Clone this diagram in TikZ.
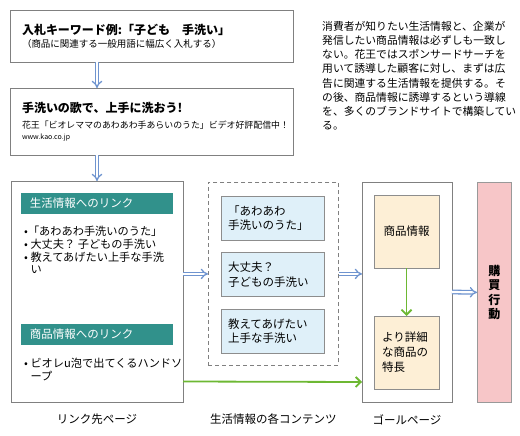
\documentclass[tikz,border=0pt]{standalone}
\usepackage{fontspec}
\setmainfont{Noto Sans CJK JP}
\usetikzlibrary{positioning,arrows.meta}
\definecolor{boxgray}{HTML}{808080}
\definecolor{kaoteal}{HTML}{31918B}
\definecolor{contentblue}{HTML}{DFF0F9}
\definecolor{goalorange}{HTML}{FDEFD6}
\definecolor{buypink}{HTML}{F7C6C8}
\definecolor{arrowblue}{HTML}{6F94CF}
\definecolor{arrowgreen}{HTML}{6DB833}
\tikzset{
    flow box/.style={
        rectangle,
        draw=boxgray,
        fill=white,
        line width=0.8pt,
        inner ysep=0pt,
        inner xsep=12pt,
        outer sep=0pt,
        align=left
    },
    link header/.style={
        rectangle,
        fill=kaoteal,
        text=white,
        minimum height=21pt,
        text width=134pt,
        inner xsep=9pt,
        inner ysep=0pt,
        outer sep=0pt,
        align=left,
        font=\fontsize{11.5}{14}\selectfont
    },
    link list/.style={inner sep=0pt, align=left, font=\fontsize{11.2}{12.7}\selectfont},
    content item/.style={
        rectangle,
        draw=boxgray!90,
        fill=contentblue,
        line width=0.8pt,
        minimum width=103pt,
        minimum height=44pt,
        text width=89pt,
        inner xsep=7pt,
        outer sep=0pt,
        align=left,
        font=\fontsize{11.5}{14.5}\selectfont
    },
    goal item/.style={
        rectangle,
        draw=boxgray!90,
        fill=goalorange,
        line width=0.8pt,
        minimum width=65pt,
        minimum height=73pt,
        text width=49pt,
        inner xsep=8pt,
        outer sep=0pt,
        font=\fontsize{11.5}{15}\selectfont
    },
    page label/.style={font=\fontsize{11.5}{14}\selectfont, inner sep=0pt},
    flow arrow/.style={
        draw=arrowblue,
        double=white,
        double distance=2.2pt,
        line width=1.3pt,
        -{Implies[scale=1.15]}
    },
    green arrow/.style={
        draw=arrowgreen,
        line width=1.8pt,
        -{Straight Barb[length=5pt,width=10pt]}
    }
}

\begin{document}
\begin{tikzpicture}[x=1pt, y=-1pt]
\useasboundingbox (0,0) rectangle (520,436);

% search ad and its landing text
\node[flow box, text width=259pt, minimum height=52pt, anchor=north west] (keyword) at (10,10)
    {{\bfseries\fontsize{12}{14}\selectfont 入札キーワード例:「子ども　手洗い」}\\[1pt]
     {\fontsize{9.5}{12}\selectfont （商品に関連する一般用語に幅広く入札する）}};
\node[flow box, text width=259pt, minimum height=67pt, anchor=north west] (adtext) at (10,88)
    {{\bfseries\fontsize{12}{14}\selectfont 手洗いの歌で、上手に洗おう!}\\[4pt]
     {\fontsize{8.9}{11}\selectfont 花王「ビオレママのあわあわ手あらいのうた」ビデオ好評配信中！}\\[-1pt]
     {\fontsize{7}{9}\selectfont www.kao.co.jp}};

% explanation
\node[anchor=north west, inner sep=0pt, align=left, font=\fontsize{10.8}{14.2}\selectfont] (note) at (322,21)
    {消費者が知りたい生活情報と、企業が\\
     発信したい商品情報は必ずしも一致し\\
     ない。花王ではスポンサードサーチを\\
     用いて誘導した顧客に対し、まずは広\\
     告に関連する生活情報を提供する。そ\\
     の後、商品情報に誘導するという導線\\
     を、多くのブランドサイトで構築してい\\
     る。};

% link page
\node[flow box, minimum width=172pt, minimum height=221pt, anchor=north west] (linkpage) at (11,181) {};
\node[link header, anchor=north west] (lifehdr) at (21,193) {生活情報へのリンク};
\node[link list, anchor=north west] (lifelist) at (24,226)
    {•「あわあわ手洗いのうた」\\
     •\ 大丈夫？ 子どもの手洗い\\
     •\ 教えてあげたい上手な手洗\\
     \phantom{•\ }い};
\node[link header, anchor=north west] (itemhdr) at (21,324) {商品情報へのリンク};
\node[link list, anchor=north west] (itemlist) at (24,358)
    {•\ ビオレu泡で出てくるハンドソ\\
     \phantom{•\ }ープ};

% life contents
\node[rectangle, draw=boxgray, dash pattern=on 4pt off 3pt, line width=0.8pt,
      minimum width=130pt, minimum height=183pt, anchor=north west] (contents) at (208,182) {};
\node[content item, anchor=north west] (song) at (221,196) {「あわあわ\\手洗いのうた」};
\node[content item, below=12.5pt of song] (okay) {大丈夫？\\子どもの手洗い};
\node[content item, below=12.5pt of okay] (teach) {教えてあげたい\\上手な手洗い};

% goal page
\node[flow box, minimum width=90pt, minimum height=220pt, anchor=north west] (goal) at (362,182) {};
\node[goal item, align=center, anchor=north west] (info) at (374,195) {商品情報};
\node[goal item, align=left, anchor=north west] (detail) at (374,316) {より詳細\\な商品の\\特長};

% purchase
\node[rectangle, draw=boxgray!80, fill=buypink, line width=0.8pt, minimum width=34pt,
      minimum height=220pt, anchor=north west, align=center,
      font=\bfseries\fontsize{12}{14.5}\selectfont] (buy) at (477,182) {購\\買\\行\\動};

% labels
\node[page label, below=12pt of linkpage] (linklbl) {リンク先ページ};
\node[page label] (contentslbl) at (contents.south |- linklbl) {生活情報の各コンテンツ};
\node[page label] (goallbl) at (goal.south |- linklbl) {ゴールページ};

% arrows
\draw[flow arrow] (keyword.south -| linkpage.north) -- (linkpage.north |- adtext.north);
\draw[flow arrow] (adtext.south -| linkpage.north) -- (linkpage.north);
\draw[flow arrow] (linkpage.east |- contents.west) -- (contents.west);
\draw[flow arrow] (contents.east) -- (goal.west |- contents.east);
\draw[flow arrow] (goal.east) -- (buy.west);
\draw[green arrow] (info.south) -- (detail.north);
\draw[green arrow] ([yshift=-90pt]linkpage.east) -- ([yshift=-90pt]goal.west);

\end{tikzpicture}
\end{document}
